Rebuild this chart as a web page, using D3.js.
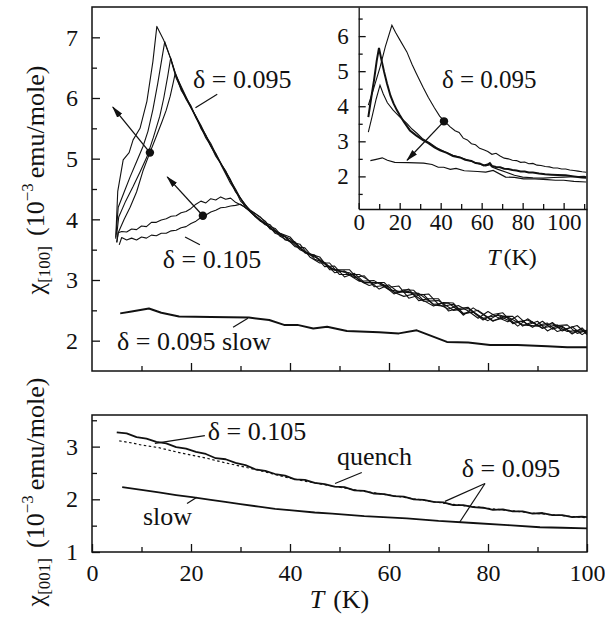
<!DOCTYPE html>
<html><head><meta charset="utf-8">
<script src="https://cdn.jsdelivr.net/npm/d3@7"></script>
</head><body style="margin:0">
<svg id="chart" width="605" height="625"></svg>
<script>
// ---------------- DATA ----------------
const tempTicks = [0,20,40,60,80,100];
const tempMinor = [10,30,50,70,90];
const chi100Ticks = [2,3,4,5,6,7];
const chi100Minor = [2.5,3.5,4.5,5.5,6.5];
const chi001Ticks = [1,2,3];
const chi001Minor = [1.5,2.5,3.5];
const insetTempTicks = [0,20,40,60,80,100];
const insetTempMinor = [10,30,50,70,90,110];
const insetChiTicks = [2,3,4,5,6];
const insetChiMinor = [1.5,2.5,3.5,4.5,5.5,6.5];

// chi[100], delta = 0.095 quench, four runs [T (K), chi]
const q095a = [[4.8,3.70],[5.2,4.46],[6.3,4.98],[7.5,5.10],[8.3,5.31],[9.7,5.50],[11.1,5.95],[12.3,6.60],[13.1,7.18],[14.5,6.95],[15.8,6.67],[16.8,6.42],
 [18,6.17],[20,5.84],[22,5.55],[24,5.20],[26,4.93],[28,4.65],[30,4.30],[32,4.15],[34,4.04],[36,3.84],[38,3.77],[40,3.71],[42,3.52],[44,3.43],[46,3.38],[48,3.17],[50,3.17],[52,3.17],[54,2.99],[56,2.91],[58,2.96],[60,2.88],[62,2.90],[64,2.70],[66,2.75],[68,2.77],[70,2.60],[72,2.52],[74,2.58],[76,2.49],[78,2.37],[80,2.48],[82,2.38],[84,2.31],[86,2.41],[88,2.26],[90,2.32],[92,2.16],[94,2.25],[96,2.26],[98,2.12],[100,2.17]];
const q095b = [[4.8,3.68],[5.3,4.20],[6.5,4.45],[7.7,4.70],[9,4.95],[10.3,5.20],[11.3,5.45],[12.3,5.81],[13.3,6.25],[14.1,6.64],[14.7,6.93],[15.8,6.67],
 [17,6.33],[19,5.98],[21,5.70],[23,5.34],[25,5.09],[27,4.77],[29,4.50],[31,4.19],[33,4.09],[35,3.97],[37,3.77],[39,3.71],[41,3.55],[43,3.53],[45,3.34],[47,3.29],[49,3.12],[51,3.15],[53,3.04],[55,3.07],[57,2.89],[59,2.91],[61,2.77],[63,2.84],[65,2.83],[67,2.66],[69,2.57],[71,2.63],[73,2.62],[75,2.45],[77,2.47],[79,2.34],[81,2.43],[83,2.46],[85,2.28],[87,2.32],[89,2.22],[91,2.32],[93,2.19],[95,2.24],[97,2.11],[99,2.21],[100,2.13]];
const q095c = [[5.0,3.75],[5.4,4.04],[6.8,4.30],[8.3,4.54],[9.7,4.78],[11.1,5.03],[12.4,5.35],[13.7,5.70],[14.5,6.00],[15.3,6.36],[15.9,6.66],[16.8,6.41],
 [18,6.13],[20,5.87],[22,5.50],[24,5.25],[26,4.91],[28,4.59],[30,4.35],[32,4.12],[34,3.97],[36,3.91],[38,3.72],[40,3.63],[42,3.59],[44,3.38],[46,3.28],[48,3.28],[50,3.09],[52,3.09],[54,3.09],[56,2.99],[58,2.85],[60,2.92],[62,2.79],[64,2.85],[66,2.66],[68,2.69],[70,2.69],[72,2.49],[74,2.53],[76,2.55],[78,2.41],[80,2.33],[82,2.43],[84,2.38],[86,2.24],[88,2.36],[90,2.25],[92,2.29],[94,2.15],[96,2.20],[98,2.25],[100,2.10]];
const q095d = [[5.0,3.62],[5.3,3.78],[6.5,4.00],[7.7,4.20],[9,4.45],[10.3,4.80],[11.7,5.10],[12.9,5.35],[14.1,5.60],[15,5.80],[15.8,6.03],[16.4,6.25],[16.8,6.40],
 [19,6.02],[21,5.67],[23,5.39],[25,5.04],[27,4.80],[29,4.45],[31,4.24],[33,4.04],[35,3.91],[37,3.85],[39,3.66],[41,3.63],[43,3.45],[45,3.41],[47,3.22],[49,3.23],[51,3.05],[53,3.11],[55,2.96],[57,2.96],[59,2.96],[61,2.80],[63,2.73],[65,2.77],[67,2.76],[69,2.59],[71,2.57],[73,2.60],[75,2.42],[77,2.54],[79,2.43],[81,2.32],[83,2.40],[85,2.40],[87,2.24],[89,2.31],[91,2.20],[93,2.30],[95,2.16],[97,2.23],[99,2.10],[100,2.15]];
// chi[100], delta = 0.105, two runs
const q105a = [[5.0,3.62],[5.3,3.78],[6,3.80],[7,3.79],[8,3.84],[9,3.83],[10,3.89],[11,3.88],[12,3.95],[13,3.95],[14,3.99],[15,4.01],[16,4.05],[17,4.06],[18,4.11],[19,4.13],[20,4.18],[21,4.25],[22,4.30],[23,4.27],[24,4.34],[25,4.32],[26,4.37],[27,4.33],[28,4.35],[29,4.28],[30,4.24],[31,4.20],
 [33,4.06],[36,3.86],[39,3.72],[42,3.50],[45,3.39],[48,3.20],[51,3.13],[54,2.98],[57,2.99],[60,2.84],[63,2.80],[66,2.78],[69,2.60],[72,2.62],[75,2.44],[78,2.50],[81,2.33],[84,2.39],[87,2.26],[90,2.24],[93,2.28],[96,2.15],[99,2.18],[100,2.12]];
const q105b = [[5.5,3.58],[6,3.70],[7,3.66],[8,3.69],[9,3.66],[10,3.71],[11,3.69],[12,3.74],[13,3.73],[14,3.77],[15,3.77],[16,3.81],[17,3.82],[18,3.86],[19,3.88],[20,3.93],[21,3.97],[22,4.03],[23,4.07],[24,4.12],[25,4.15],[26,4.19],[27,4.20],[28,4.22],[29,4.23],[30,4.25],[31,4.19],
 [34,3.99],[37,3.79],[40,3.68],[43,3.45],[46,3.34],[49,3.16],[52,3.12],[55,2.95],[58,2.96],[61,2.80],[64,2.81],[67,2.65],[70,2.66],[73,2.50],[76,2.53],[79,2.37],[82,2.42],[85,2.30],[88,2.34],[91,2.21],[94,2.26],[97,2.14],[100,2.17]];
// chi[100], delta = 0.095 slow cooled (also in inset)
const slow095 = [[5.7,2.45],[8,2.48],[11.5,2.53],[14,2.46],[17.6,2.40],[24,2.39],[31.7,2.38],[35.8,2.34],[38.8,2.26],[41.5,2.26],[44.7,2.20],[47.5,2.23],[51.5,2.16],[58,2.14],[62,2.12],[65.6,2.17],[71.7,1.98],[76,1.97],[80.4,1.93],[86,1.93],[92,1.91],[96,1.89],[100,1.89],[105,1.86],[111,1.84]];
// inset, delta = 0.095 runs
const inset1 = [[4.7,4.03],[7,4.45],[10.4,5.11],[13,5.70],[16.2,6.31],[18,6.10],[20,5.90],[23.5,5.55],[26,5.20],[28,4.95],[31.4,4.54],[34,4.25],[37,3.95],[39.5,3.72],[41.5,3.60],[44.5,3.42],[47,3.30],[49,3.25],[51,3.09],[53,3.04],[55,2.93],[57,2.90],[59,2.80],[61,2.76],[63,2.71],[65,2.63],[67,2.66],[69,2.58],[71,2.52],[73,2.50],[75,2.46],[77,2.45],[79,2.40],[81,2.41],[83,2.36],[85,2.37],[87,2.32],[89,2.31],[91,2.28],[93,2.27],[95,2.24],[97,2.24],[99,2.21],[101,2.21],[103,2.18],[105,2.17],[107,2.15],[109,2.13],[111,2.12]];
const inset2 = [[4.7,3.69],[6,4.20],[7.5,4.75],[8.8,5.30],[9.9,5.66],[11,5.35],[12.4,4.98],[13.8,4.65],[15.5,4.30],[17,4.08],[18.6,3.89],[20,3.75],[22,3.56],[25,3.31],[28,3.17],[31.4,3.03],[34,2.95],[37,2.83],[39.7,2.74],[43,2.67],[46,2.58],[49.4,2.54],[52,2.47],[55,2.44],[57,2.38],[59,2.37],[61,2.31],[63,2.34],[64,2.38],[65,2.30],[67,2.27],[69,2.26],[71,2.22],[73,2.21],[75,2.18],[77,2.17],[79,2.14],[81,2.14],[83,2.11],[85,2.11],[88,2.08],[91,2.06],[94,2.05],[97,2.04],[101,2.03],[105,2.00],[109,1.97],[111,1.96]];
const inset3 = [[4.7,3.26],[6.5,3.70],[8.5,4.20],[10.4,4.60],[12,4.35],[14,4.10],[16.8,3.89],[20,3.70],[23.5,3.51],[26,3.35],[28.4,3.23],[31,3.08],[34.7,2.95],[38,2.82],[42,2.70],[46,2.60],[50,2.53],[54,2.45],[58,2.37],[62,2.30],[64,2.33],[65,2.27],[68,2.20],[72,2.12],[76,2.03],[80,1.98],[85,1.96],[90,1.95],[95,1.97],[100,1.98],[105,1.99],[110,2.00],[111,1.99]];
// chi[001]
const c001q105 = [[5,3.27],[7,3.25],[9,3.18],[11,3.15],[13,3.09],[15,3.06],[17,2.99],[19,2.96],[21,2.90],[23,2.86],[25,2.78],[27,2.76],[29,2.69],[31,2.65],[33,2.57],[35,2.54],[37,2.48],[39,2.45],[41,2.38],[43,2.37],[45,2.31],[47,2.29],[49,2.24],[51,2.23],[53,2.17],[55,2.16],[57,2.11],[59,2.10],[61,2.06],[63,2.05],[65,2.00],[67,1.99],[69,1.95],[71,1.94],[73,1.89],[75,1.89],[77,1.85],[79,1.84],[81,1.80],[83,1.81],[85,1.77],[87,1.77],[89,1.73],[91,1.74],[93,1.70],[95,1.70],[97,1.66],[99,1.67],[100,1.66]];
const c001q095 = [[5.5,3.11],[8,3.07],[10,3.03],[13.5,2.98],[17,2.90],[20,2.84],[23.6,2.77],[27,2.69],[30,2.63],[33.7,2.55],[37,2.47],[40,2.40],[45,2.31],[50,2.23],[55,2.15],[60,2.08],[65,2.01],[70,1.94],[75,1.88],[80,1.83],[85,1.78],[90,1.73],[95,1.69],[100,1.65]];
const c001slow = [[6.1,2.23],[10,2.18],[13.5,2.13],[17,2.08],[20.2,2.04],[24,1.99],[26.9,1.95],[30,1.91],[33.7,1.86],[37,1.82],[40.4,1.79],[45,1.75],[48.5,1.73],[55,1.68],[63.6,1.64],[70,1.59],[77,1.55],[84,1.51],[90.5,1.47],[95,1.46],[100,1.45]];

// ---------------- LAYOUT ----------------
const FONT = '"Liberation Serif"';
const svg = d3.select("#chart");
const ink = "#111";
const L = 92, R = 587;
const topP = {t:7, b:371}, botP = {t:415, b:552};
const inset = {l:358.7, r:587, t:7, b:209};

const x = d3.scaleLinear().domain([0,100]).range([L,R]);
const yTop = d3.scaleLinear().domain([1.5,7.5]).range([topP.b, topP.t]);
const yBot = d3.scaleLinear().domain([1,3.6]).range([botP.b, botP.t]);
const xIn = d3.scaleLinear().domain([0,111.4]).range([inset.l, inset.r]);
const yIn = d3.scaleLinear().domain([1.07,6.83]).range([inset.b, inset.t]);
const fmt = d3.format("d");

const defs = svg.append("defs");
defs.append("clipPath").attr("id","clipTop").append("rect")
  .attr("x",L).attr("y",topP.t).attr("width",R-L).attr("height",topP.b-topP.t);
defs.append("clipPath").attr("id","clipIn").append("rect")
  .attr("x",inset.l).attr("y",inset.t).attr("width",inset.r-inset.l).attr("height",inset.b-inset.t);
defs.append("marker").attr("id","arr").attr("viewBox","0 0 12 8").attr("refX",11).attr("refY",4)
  .attr("markerWidth",12).attr("markerHeight",8).attr("markerUnits","userSpaceOnUse").attr("orient","auto")
  .append("path").attr("d","M0,0.8 L12,4 L0,7.2 Z").attr("fill",ink);

function setFont(sel){ return sel.attr("font-family",FONT); }

function axis(gen, tx, ty, fs, removeDomain){
  const g = svg.append("g").attr("transform",`translate(${tx},${ty})`).call(gen);
  g.attr("font-size",fs);
  setFont(g);
  g.selectAll("path.domain").attr("stroke",ink).attr("stroke-width",1.3);
  g.selectAll(".tick line").attr("stroke",ink).attr("stroke-width",1.3);
  setFont(g.selectAll(".tick text").attr("fill",ink).attr("font-size",fs));
  if(removeDomain) g.select("path.domain").remove();
  return g;
}

// ---------- TOP PANEL ----------
axis(d3.axisLeft(yTop).tickValues(chi100Ticks).tickFormat(fmt).tickSizeInner(-8).tickSizeOuter(0).tickPadding(14), L,0,24,true);
axis(d3.axisLeft(yTop).tickValues(chi100Minor).tickSizeInner(-5).tickSizeOuter(0).tickFormat(""), L,0,24,true);
axis(d3.axisBottom(x).tickValues([20,40,60,80]).tickSizeInner(-8).tickSizeOuter(0).tickFormat(""), 0,topP.b,24,true);
axis(d3.axisBottom(x).tickValues(tempMinor).tickSizeInner(-5).tickSizeOuter(0).tickFormat(""), 0,topP.b,24,true);
svg.append("rect").attr("x",L).attr("y",topP.t).attr("width",R-L).attr("height",topP.b-topP.t)
  .attr("fill","none").attr("stroke",ink).attr("stroke-width",1.5);

const lineTop = d3.line().x(d=>x(d[0])).y(d=>yTop(d[1]));
const gTop = svg.append("g").attr("clip-path","url(#clipTop)");
[q095a,q095b,q095c,q095d,q105a,q105b].forEach(s=>{
  gTop.append("path").attr("d",lineTop(s)).attr("fill","none").attr("stroke",ink)
    .attr("stroke-width",1.1).attr("stroke-linejoin","round");
});
gTop.append("path").attr("d",lineTop(slow095)).attr("fill","none").attr("stroke",ink)
  .attr("stroke-width",2).attr("stroke-linejoin","round");

function arrow(xs, ys, p0, p1){
  svg.append("line").attr("x1",xs(p0[0])).attr("y1",ys(p0[1])).attr("x2",xs(p1[0])).attr("y2",ys(p1[1]))
    .attr("stroke",ink).attr("stroke-width",1.3).attr("marker-end","url(#arr)");
  svg.append("circle").attr("cx",xs(p0[0])).attr("cy",ys(p0[1])).attr("r",4.2).attr("fill",ink);
}
function leader(xs, ys, p0, p1){
  svg.append("line").attr("x1",xs(p0[0])).attr("y1",ys(p0[1])).attr("x2",xs(p1[0])).attr("y2",ys(p1[1]))
    .attr("stroke",ink).attr("stroke-width",1.2);
}
function label(xs, ys, p, txt, fs){
  const t = svg.append("text").attr("x",xs(p[0])).attr("y",ys(p[1])).attr("font-size",fs);
  setFont(t);
  return t.attr("fill",ink).text(txt);
}
arrow(x, yTop, [11.7,5.10], [4.2,5.85]);
arrow(x, yTop, [22.4,4.06], [15.2,4.70]);
leader(x, yTop, [25.3,6.06], [20.9,5.84]);
leader(x, yTop, [18.8,3.71], [21.8,3.58]);
leader(x, yTop, [28.5,2.22], [31.5,2.37]);
label(x, yTop, [20.4,6.165], "δ = 0.095", 26);
label(x, yTop, [14.3,3.20], "δ = 0.105", 26);
label(x, yTop, [5.05,1.846], "δ = 0.095 slow", 26);

// ---------- INSET ----------
axis(d3.axisLeft(yIn).tickValues(insetChiTicks).tickFormat(fmt).tickSizeInner(-7).tickSizeOuter(0).tickPadding(10), inset.l,0,23,false);
axis(d3.axisLeft(yIn).tickValues(insetChiMinor).tickSizeInner(-4).tickSizeOuter(0).tickFormat(""), inset.l,0,23,true);
axis(d3.axisBottom(xIn).tickValues(insetTempTicks).tickFormat(fmt).tickSizeInner(-6).tickSizeOuter(0).tickPadding(5), 0,inset.b,23,false);
axis(d3.axisBottom(xIn).tickValues(insetTempMinor).tickSizeInner(-5).tickSizeOuter(0).tickFormat(""), 0,inset.b,23,true);
const lineIn = d3.line().x(d=>xIn(d[0])).y(d=>yIn(d[1]));
const gIn = svg.append("g").attr("clip-path","url(#clipIn)");
gIn.append("path").attr("d",lineIn(inset1)).attr("fill","none").attr("stroke",ink).attr("stroke-width",1.1);
gIn.append("path").attr("d",lineIn(inset2)).attr("fill","none").attr("stroke",ink).attr("stroke-width",2);
gIn.append("path").attr("d",lineIn(inset3)).attr("fill","none").attr("stroke",ink).attr("stroke-width",1.1);
gIn.append("path").attr("d",lineIn(slow095)).attr("fill","none").attr("stroke",ink).attr("stroke-width",1.2);
arrow(xIn, yIn, [41.6,3.57], [23.6,2.46]);
label(xIn, yIn, [40.6,4.53], "δ = 0.095", 25);
const tIn = setFont(svg.append("text").attr("x",xIn(74.8)).attr("y",inset.b+56).attr("font-size",24))
  .attr("fill",ink).attr("text-anchor","middle");
tIn.append("tspan").attr("font-style","italic").text("T");
tIn.append("tspan").attr("dx",3).text("(K)");

// ---------- BOTTOM PANEL ----------
axis(d3.axisLeft(yBot).tickValues(chi001Ticks).tickFormat(fmt).tickSizeInner(-8).tickSizeOuter(0).tickPadding(14), L,0,24,true);
axis(d3.axisLeft(yBot).tickValues(chi001Minor).tickSizeInner(-5).tickSizeOuter(0).tickFormat(""), L,0,24,true);
axis(d3.axisBottom(x).tickValues(tempTicks).tickFormat(fmt).tickSizeInner(-8).tickSizeOuter(0).tickPadding(12), 0,botP.b,24,true);
axis(d3.axisBottom(x).tickValues(tempMinor).tickSizeInner(-5).tickSizeOuter(0).tickFormat(""), 0,botP.b,24,true);
svg.append("rect").attr("x",L).attr("y",botP.t).attr("width",R-L).attr("height",botP.b-botP.t)
  .attr("fill","none").attr("stroke",ink).attr("stroke-width",1.5);

const lineBot = d3.line().x(d=>x(d[0])).y(d=>yBot(d[1]));
svg.append("path").attr("d",lineBot(c001q095)).attr("fill","none").attr("stroke",ink)
  .attr("stroke-width",1.2).attr("stroke-dasharray","2.5,2.5");
svg.append("path").attr("d",lineBot(c001q105)).attr("fill","none").attr("stroke",ink)
  .attr("stroke-width",1.8).attr("stroke-linejoin","round");
svg.append("path").attr("d",lineBot(c001slow)).attr("fill","none").attr("stroke",ink)
  .attr("stroke-width",1.8);
leader(x, yBot, [12.7,3.06], [22.8,3.21]);
leader(x, yBot, [54.5,2.51], [49.1,2.30]);
leader(x, yBot, [79.4,2.30], [71.3,1.96]);
leader(x, yBot, [79.4,2.30], [74.3,1.57]);
leader(x, yBot, [19.2,1.92], [21.2,2.04]);
label(x, yBot, [23.4,3.13], "δ = 0.105", 26);
label(x, yBot, [49.5,2.65], "quench", 26);
label(x, yBot, [74.7,2.42], "δ = 0.095", 26);
label(x, yBot, [10.3,1.51], "slow", 26);

const tx = setFont(svg.append("text").attr("x",x(50)).attr("y",608).attr("font-size",26))
  .attr("fill",ink).attr("text-anchor","middle");
tx.append("tspan").attr("font-style","italic").text("T");
tx.append("tspan").attr("dx",9).text("(K)");

function yTitle(cy, sub){
  const t = setFont(svg.append("text").attr("transform",`translate(44,${cy}) rotate(-90)`).attr("font-size",26))
    .attr("fill",ink).attr("text-anchor","middle");
  t.append("tspan").text("χ");
  t.append("tspan").attr("font-size",17).attr("dy",6).text(sub);
  t.append("tspan").attr("dy",-6).attr("dx",10).text("(10");
  t.append("tspan").attr("font-size",17).attr("dy",-11).text("−3");
  t.append("tspan").attr("dy",11).attr("dx",5).text("emu/mole)");
}
yTitle(180, "[100]");
yTitle(492, "[001]");
</script>
</body></html>
